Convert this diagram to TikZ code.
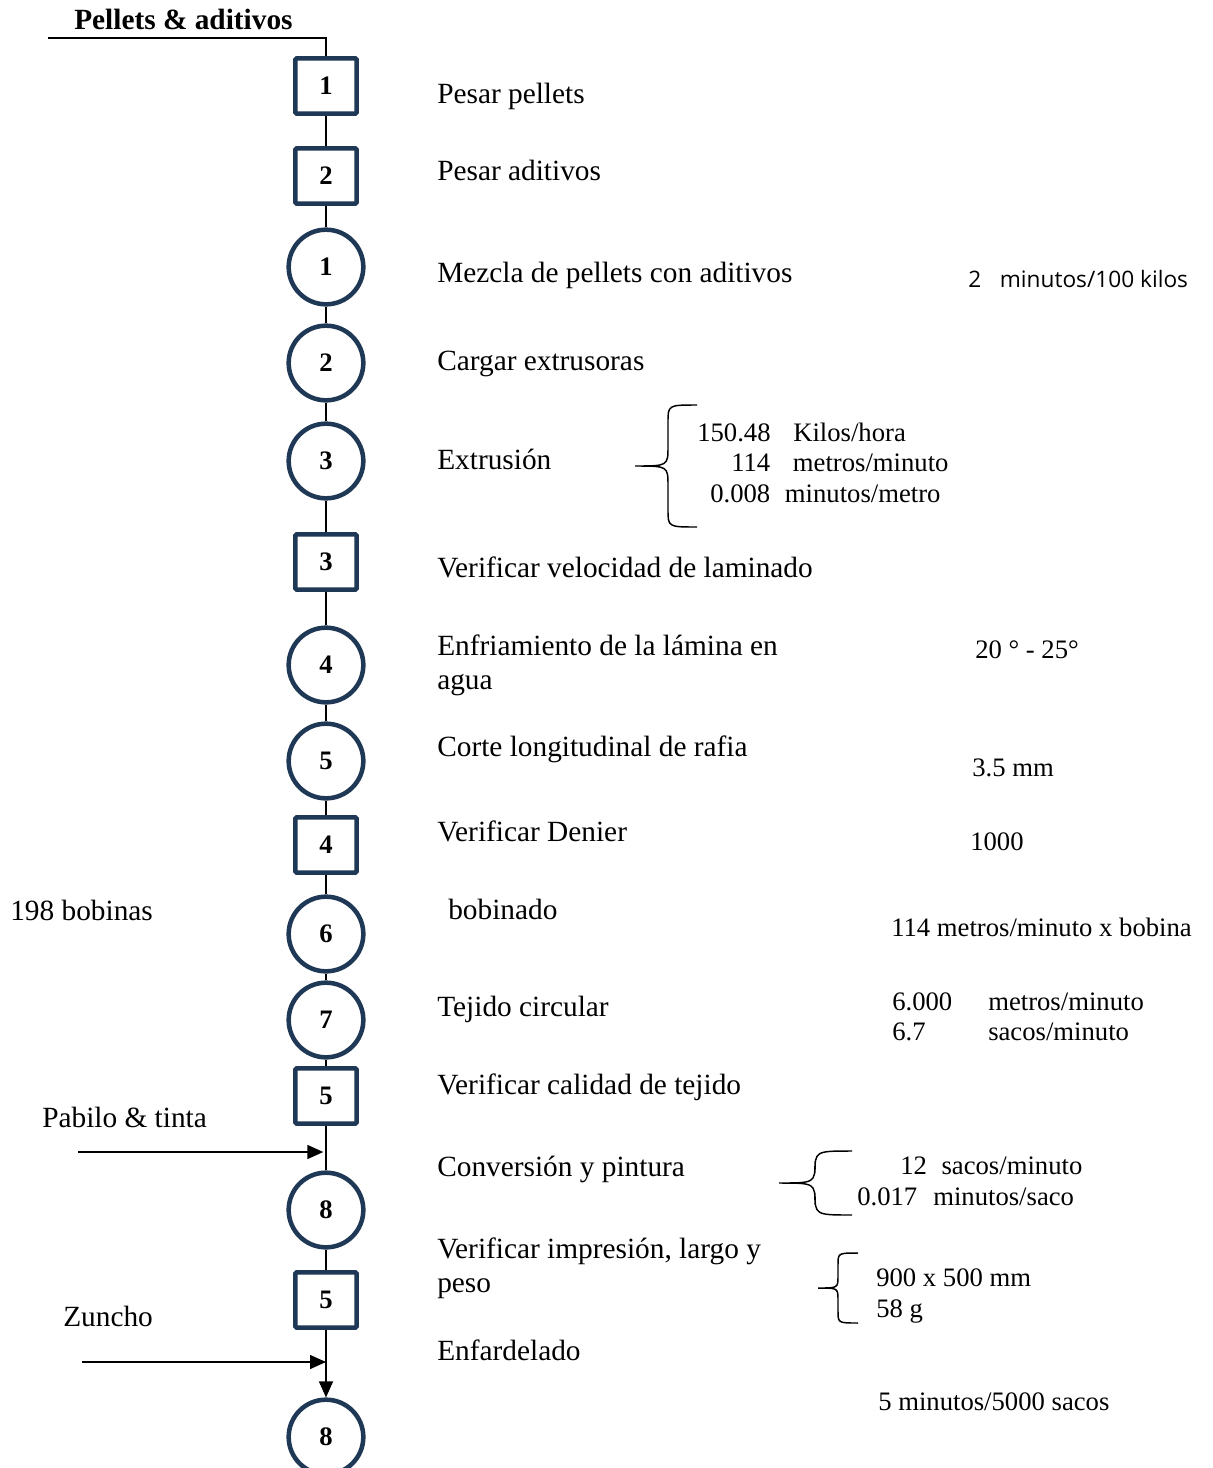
\documentclass[tikz,border=0pt]{standalone}
\usepackage{fontspec}
\setmainfont{Liberation Serif}
\newfontfamily\notesans{Open Sans}
\usetikzlibrary{arrows.meta}
\definecolor{navy}{HTML}{1F3856}

\tikzset{
  opbox/.style={draw=navy, line width=3.4pt, minimum width=46pt, minimum height=41.5pt,
    inner sep=0pt, rounded corners=1pt, font=\fontsize{20}{22}\selectfont\bfseries},
  opcirc/.style={circle, draw=navy, line width=3.4pt, minimum size=56pt,
    inner sep=0pt, font=\fontsize{20}{22}\selectfont\bfseries},
  flow/.style={line width=1.1pt},
  feed/.style={line width=1.1pt, -{Triangle[length=12pt,width=10.5pt]}},
  txt/.style={anchor=base west, inner sep=0pt, align=left, font=\fontsize{22}{25.5}\selectfont},
  note/.style={anchor=base west, inner sep=0pt, align=left, font=\fontsize{20}{23}\selectfont},
}

% #1 tip x, #2 spine x, #3 end x, #4 top y, #5 bottom y
\newcommand{\openbrace}[5]{%
  \pgfmathsetmacro{\bmid}{(#4+#5)/2}
  \pgfmathsetmacro{\brA}{0.6*(#3-#2)}
  \pgfmathsetmacro{\brB}{0.6*(#2-#1)}
  \draw[flow] (#3,#4) .. controls (#2,#4) .. (#2,#4+\brA) -- (#2,\bmid-\brB)
    .. controls (#2,\bmid) .. (#1,\bmid) .. controls (#2,\bmid) .. (#2,\bmid+\brB)
    -- (#2,#5-\brA) .. controls (#2,#5) .. (#3,#5);
}

\begin{document}
\begin{tikzpicture}[x=0.75pt,y=-0.75pt]
  \useasboundingbox (0,0) rectangle (1213,1468);

  % process chart
  \node[opbox]  (insp1) at (326,86)   {1};
  \node[opbox]  (insp2) at (326,176)  {2};
  \node[opcirc] (op1)   at (326,267)  {1};
  \node[opcirc] (op2)   at (326,363)  {2};
  \node[opcirc] (op3)   at (326,461)  {3};
  \node[opbox]  (insp3) at (326,562)  {3};
  \node[opcirc] (op4)   at (326,665)  {4};
  \node[opcirc] (op5)   at (326,761)  {5};
  \node[opbox]  (insp4) at (326,845)  {4};
  \node[opcirc] (op6)   at (326,934)  {6};
  \node[opcirc] (op7)   at (326,1020) {7};
  \node[opbox]  (insp5) at (326,1096) {5};
  \node[opcirc] (op8)   at (326,1210) {8};
  \node[opbox]  (insp6) at (326,1300) {5};
  \node[opcirc] (op9)   at (326,1437) {8};

  \foreach \a/\b in {insp1/insp2,insp2/op1,op1/op2,op2/op3,op3/insp3,insp3/op4,
                     op4/op5,op5/insp4,insp4/op6,op6/op7,op7/insp5,insp5/op8,op8/insp6}
    \draw[flow] (\a) -- (\b);
  \draw[feed] (insp6) -- (op9);

  % inputs
  \coordinate (pelletsin) at (48,38);
  \coordinate (pabiloin)  at (78,1152);
  \coordinate (zunchoin)  at (82,1362);
  \draw[flow] (pelletsin) -| (insp1);
  \draw[feed, shorten >=2pt] (pabiloin) -- (pabiloin -| insp5.south);
  \draw[feed] (zunchoin) -- (zunchoin -| insp6.south);

  \node[txt, font=\fontsize{22}{25.5}\selectfont\bfseries] (pellets) at (74,29) {Pellets \& aditivos};
  \node[txt] (bobinas) at (10,920)  {198 bobinas};
  \node[txt] (pabilo)  at (42,1127) {Pabilo \& tinta};
  \node[txt] (zuncho)  at (63,1326) {Zuncho};

  % step descriptions
  \node[txt] (d1)  at (437,103)  {Pesar pellets};
  \node[txt] (d2)  at (437,180)  {Pesar aditivos};
  \node[txt] (d3)  at (437,282)  {Mezcla de pellets con aditivos};
  \node[txt] (d4)  at (437,370)  {Cargar extrusoras};
  \node[txt] (d5)  at (437,469)  {Extrusión};
  \node[txt] (d6)  at (437,577)  {Verificar velocidad de laminado};
  \node[txt] (d7)  at (437,689)  {Enfriamiento de la lámina en\\agua};
  \node[txt] (d8)  at (437,756)  {Corte longitudinal de rafia};
  \node[txt] (d9)  at (437,841)  {Verificar Denier};
  \node[txt] (d10) at (448,919)  {bobinado};
  \node[txt] (d11) at (437,1016) {Tejido circular};
  \node[txt] (d12) at (437,1094) {Verificar calidad de tejido};
  \node[txt] (d13) at (437,1176) {Conversión y pintura};
  \node[txt] (d14) at (437,1292) {Verificar impresión, largo y\\peso};
  \node[txt] (d15) at (437,1360) {Enfardelado};

  % data
  \node[anchor=base west, inner sep=0pt, font=\notesans\fontsize{17}{19}\selectfont]
    (mix) at (968,287) {2\hspace{14pt}minutos/100 kilos};
  \openbrace{635}{668}{697}{405}{527}
  \node[note] (ext1) at (697,441) {150.48\hspace{17pt}Kilos/hora};
  \node[note] (ext2) at (731,471) {114\hspace{17pt}metros/minuto};
  \node[note] (ext3) at (710,502) {0.008\hspace{11pt}minutos/metro};
  \node[note] (temp)   at (975,658) {20 ° - 25°};
  \node[note] (width)  at (972,776) {3.5 mm};
  \node[note] (denier) at (970,850) {1000};
  \node[note] (speed)  at (891,936) {114 metros/minuto x bobina};
  \node[note] (loom) at (892,1010)
    {\begin{tabular}[t]{@{}l@{\hspace{27pt}}l@{}}6.000 & metros/minuto\\ 6.7 & sacos/minuto\end{tabular}};
  \openbrace{779}{815}{852}{1151}{1215}
  \node[note] (conv1) at (900,1174) {12\hspace{11pt}sacos/minuto};
  \node[note] (conv2) at (857,1205) {0.017\hspace{12pt}minutos/saco};
  \openbrace{818}{838}{858}{1253}{1323}
  \node[note, font=\fontsize{20}{23.2}\selectfont] (size) at (876,1317) {900 x 500 mm\\58 g};
  \node[note] (bale) at (878,1410) {5 minutos/5000 sacos};

\end{tikzpicture}
\end{document}
